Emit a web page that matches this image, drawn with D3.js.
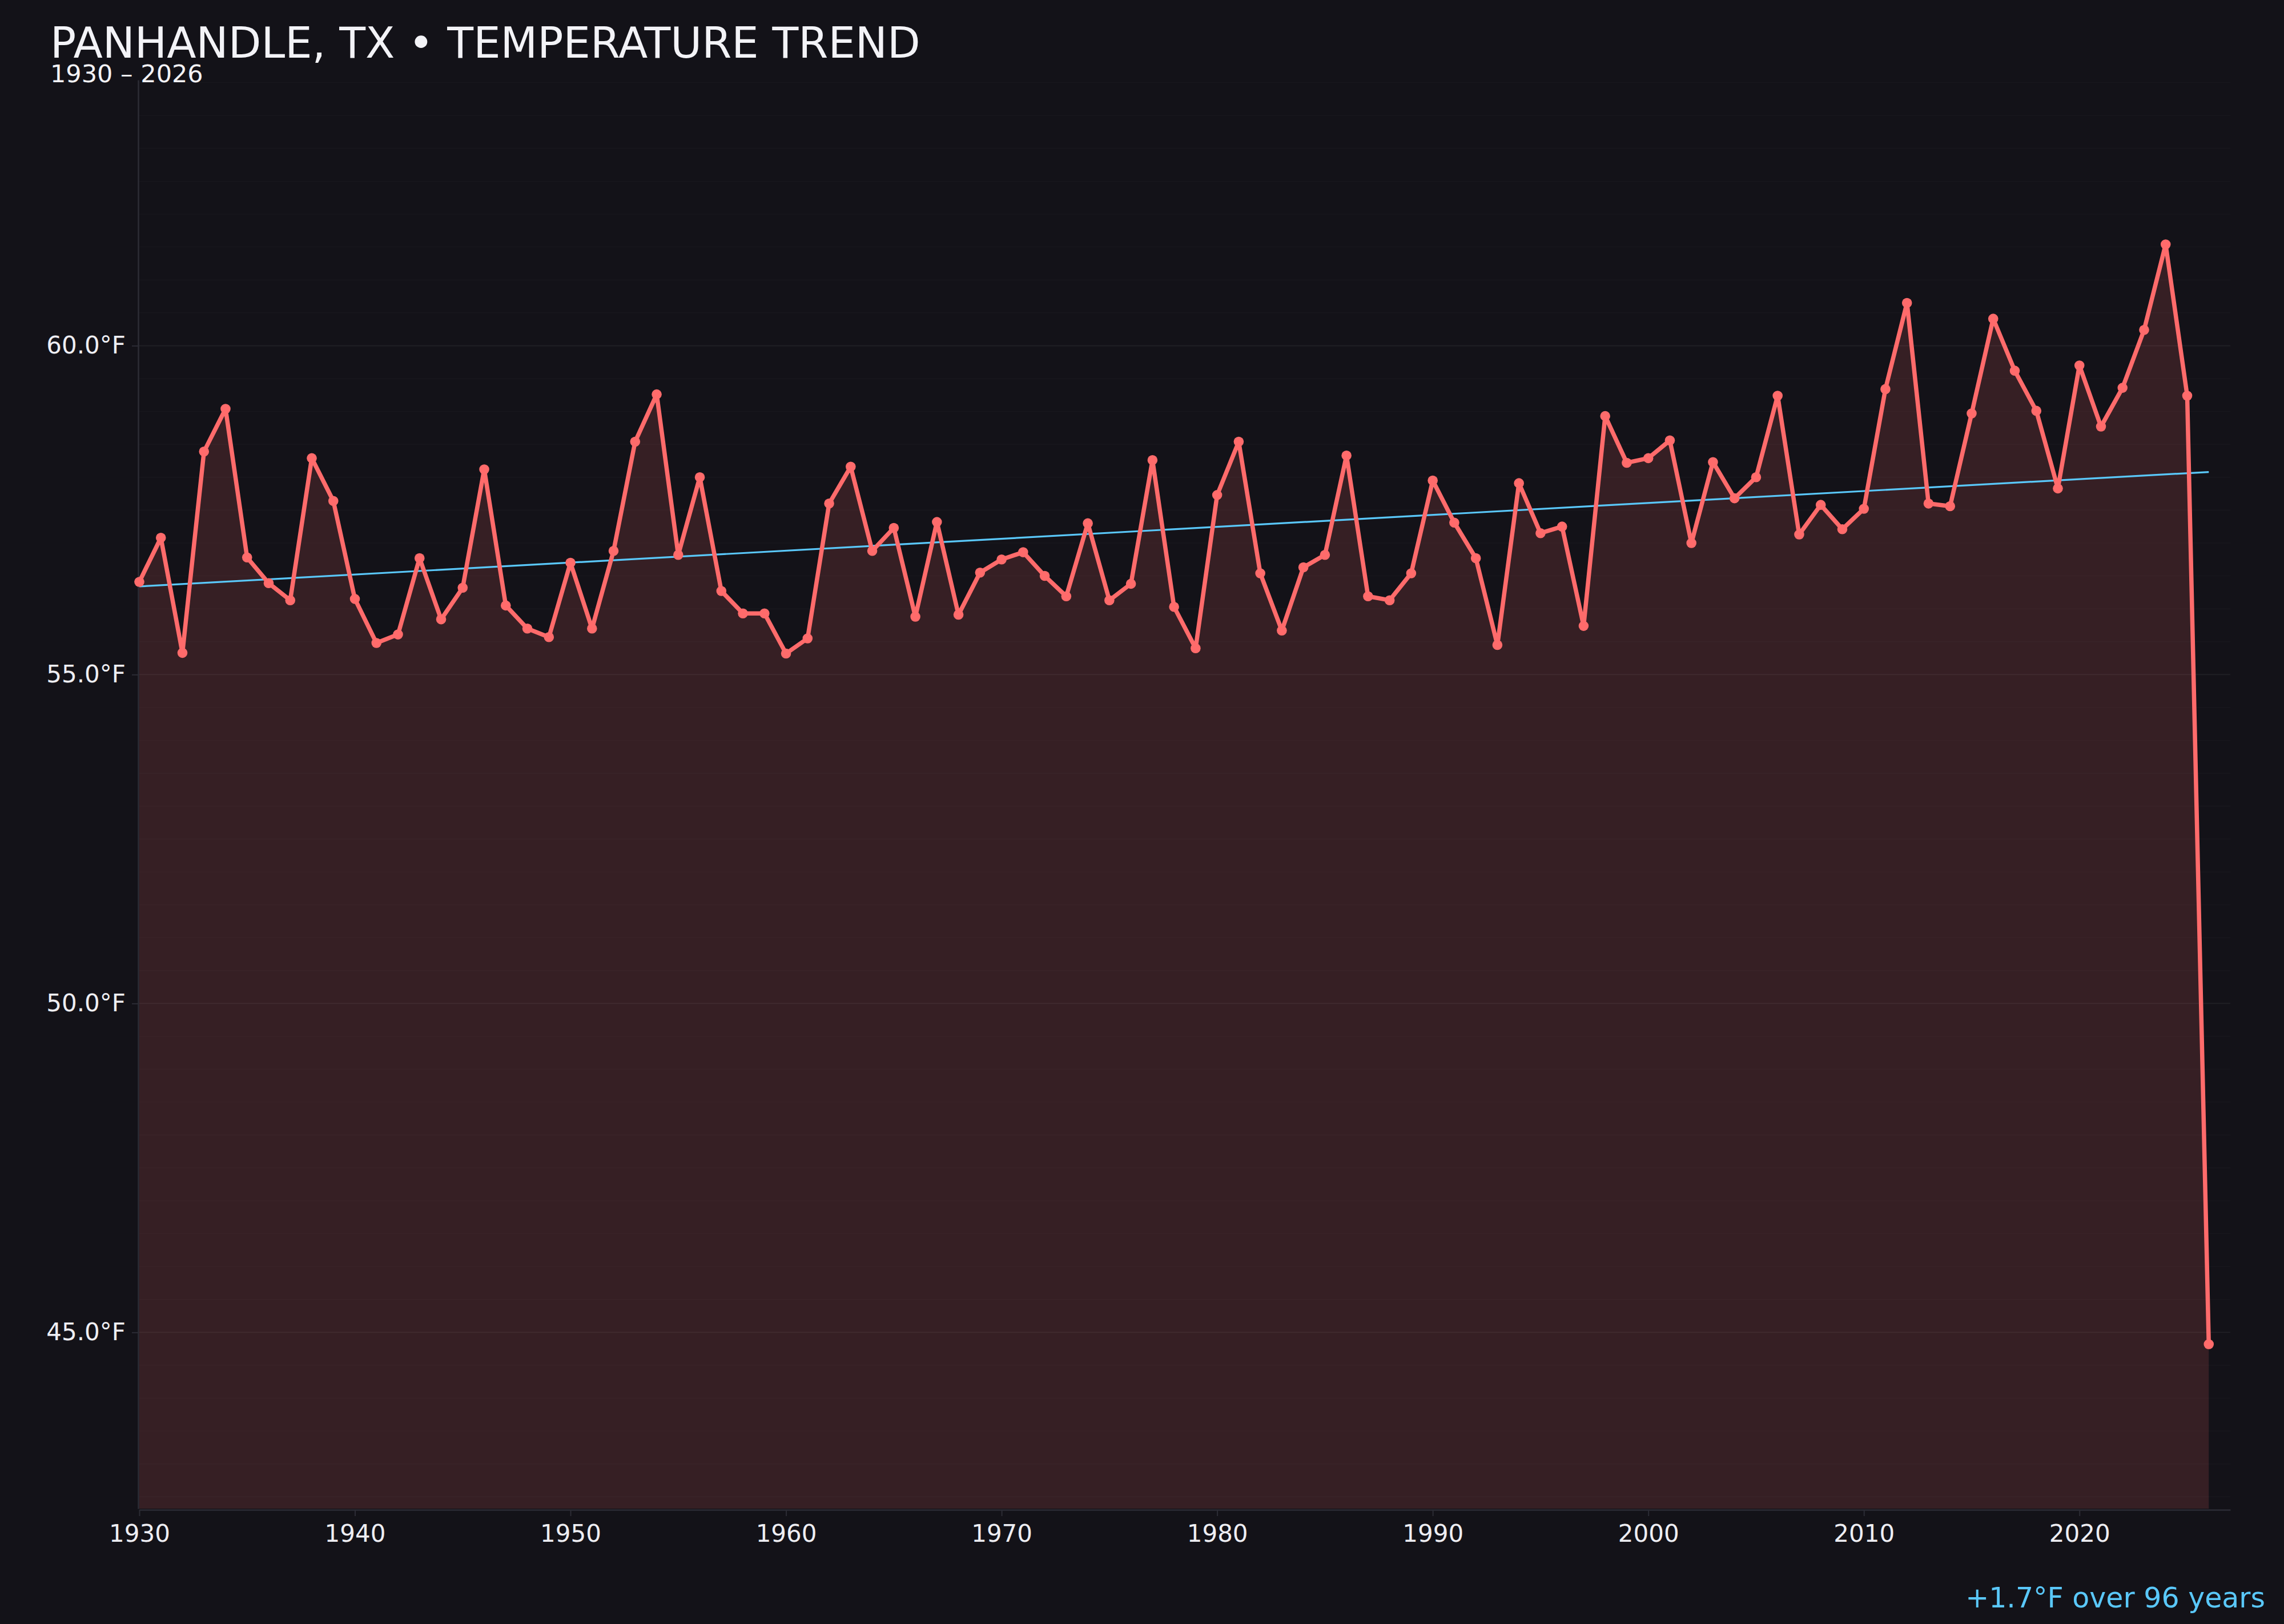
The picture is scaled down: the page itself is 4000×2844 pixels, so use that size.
<!DOCTYPE html>
<html>
<head>
<meta charset="utf-8">
<script src="https://cdn.jsdelivr.net/npm/d3@7/dist/d3.min.js"></script>
<style>
  html, body { margin: 0; padding: 0; background: #131218; }
  svg { display: block; }
  text { font-family: "DejaVu Sans", sans-serif; }
</style>
</head>
<body>
<script>
// ---- DATA ----
const years = [
  1930,1931,1932,1933,1934,1935,1936,1937,1938,1939,
  1940,1941,1942,1943,1944,1945,1946,1947,1948,1949,
  1950,1951,1952,1953,1954,1955,1956,1957,1958,1959,
  1960,1961,1962,1963,1964,1965,1966,1967,1968,1969,
  1970,1971,1972,1973,1974,1975,1976,1977,1978,1979,
  1980,1981,1982,1983,1984,1985,1986,1987,1988,1989,
  1990,1991,1992,1993,1994,1995,1996,1997,1998,1999,
  2000,2001,2002,2003,2004,2005,2006,2007,2008,2009,
  2010,2011,2012,2013,2014,2015,2016,2017,2018,2019,
  2020,2021,2022,2023,2024,2025,2026
];
const temps = [
  56.41,57.08,55.33,58.39,59.04,56.78,56.39,56.13,58.29,57.64,
  56.15,55.48,55.61,56.77,55.84,56.32,58.12,56.05,55.70,55.57,
  56.70,55.70,56.88,58.54,59.26,56.82,58.00,56.27,55.93,55.93,
  55.32,55.55,57.60,58.16,56.88,57.23,55.88,57.32,55.91,56.55,
  56.75,56.86,56.50,56.19,57.30,56.13,56.38,58.26,56.03,55.40,
  57.73,58.54,56.54,55.67,56.63,56.82,58.33,56.19,56.13,56.54,
  57.95,57.31,56.77,55.45,57.91,57.15,57.25,55.74,58.93,58.22,
  58.29,58.56,57.00,58.23,57.68,58.00,59.24,57.13,57.58,57.21,
  57.52,59.34,60.65,57.60,57.56,58.97,60.41,59.62,59.01,57.83,
  59.70,58.77,59.36,60.24,61.54,59.24,44.82
];
const trendYears = [1930, 2026];
const trendValues = [56.34, 58.08];
const yTickValues = [45, 50, 55, 60];
const xTickValues = [1930, 1940, 1950, 1960, 1970, 1980, 1990, 2000, 2010, 2020];
const titleText = "PANHANDLE, TX \u2022 TEMPERATURE TREND";
const subtitleText = "1930 \u2013 2026";
const trendLabel = "+1.7\u00B0F over 96 years";

// ---- LAYOUT ----
const W = 4000, H = 2844;
const plot = { left: 244, right: 3906, top: 140, bottom: 2642 };
const colors = {
  bg: "#131218", line: "#ff6b6b", trend: "#5ac8fa",
  text: "#eeeef3", axis: "#2c2c35"
};

const data = years.map((y, i) => ({ year: y, value: temps[i] }));
const trend = trendYears.map((y, i) => ({ year: y, value: trendValues[i] }));

const x = d3.scaleLinear().domain([1930, 2027]).range([plot.left, plot.right]);
const yMin = d3.min(temps) - 2.5, yMax = d3.max(temps) + 2.5;
const y = d3.scaleLinear().domain([yMin, yMax]).range([plot.bottom, plot.top]);

const svg = d3.select("body").append("svg")
  .attr("width", W).attr("height", H)
  .style("background", colors.bg);

svg.append("rect").attr("width", W).attr("height", H).attr("fill", colors.bg);

// gridlines
const minor = d3.range(Math.ceil(yMin * 2) / 2, yMax + 0.001, 0.5)
  .filter(v => !yTickValues.includes(v));
svg.append("g").selectAll("line").data(minor).join("line")
  .attr("x1", plot.left - 2).attr("x2", plot.right)
  .attr("y1", d => y(d)).attr("y2", d => y(d))
  .attr("stroke", "#ffffff").attr("stroke-opacity", 0.025).attr("stroke-width", 1.5);
svg.append("g").selectAll("line").data(yTickValues).join("line")
  .attr("x1", plot.left - 2).attr("x2", plot.right)
  .attr("y1", d => y(d)).attr("y2", d => y(d))
  .attr("stroke", "#ffffff").attr("stroke-opacity", 0.055).attr("stroke-width", 2);

// area fill
const area = d3.area().x(d => x(d.year)).y0(y(yMin)).y1(d => y(d.value));
svg.append("path").datum(data).attr("d", area)
  .attr("fill", colors.line).attr("fill-opacity", 0.15);

// axes
const yAxis = d3.axisLeft(y).tickValues(yTickValues)
  .tickFormat(d => d3.format(".1f")(d) + "\u00B0F")
  .tickSize(11).tickSizeOuter(0).tickPadding(11);
const gy = svg.append("g").attr("transform", `translate(${plot.left - 2},0)`).call(yAxis);
gy.select(".domain").attr("stroke", colors.axis).attr("stroke-width", 2.5);
gy.selectAll(".tick line").attr("stroke", colors.axis).attr("stroke-width", 2);
gy.selectAll(".tick text").attr("fill", colors.text)
  .style("font-size", "42px").style("font-family", "DejaVu Sans, sans-serif");

const xAxis = d3.axisBottom(x).tickValues(xTickValues).tickFormat(d => String(d))
  .tickSize(11).tickSizeOuter(0).tickPadding(15);
const gx = svg.append("g").attr("transform", `translate(0,${plot.bottom + 2})`).call(xAxis);
gx.select(".domain").attr("stroke", colors.axis).attr("stroke-width", 2.5);
gx.selectAll(".tick line").attr("stroke", colors.axis).attr("stroke-width", 2);
gx.selectAll(".tick text").attr("fill", colors.text)
  .style("font-size", "42px").style("font-family", "DejaVu Sans, sans-serif");

// trend line
const lineGen = d3.line().x(d => x(d.year)).y(d => y(d.value));
svg.append("path").datum(trend).attr("d", lineGen)
  .attr("fill", "none").attr("stroke", colors.trend).attr("stroke-width", 3.2);

// data line
svg.append("path").datum(data).attr("d", lineGen)
  .attr("fill", "none").attr("stroke", colors.line)
  .attr("stroke-width", 7.5).attr("stroke-linejoin", "round");

// dots
svg.append("g").selectAll("circle").data(data).join("circle")
  .attr("cx", d => x(d.year)).attr("cy", d => y(d.value)).attr("r", 8.8)
  .attr("fill", colors.line);

// titles
svg.append("text").attr("x", 88).attr("y", 101).text(titleText)
  .attr("fill", "#f3f3f7").style("font-size", "75px");
svg.append("text").attr("x", 88).attr("y", 144).text(subtitleText)
  .attr("fill", "#f3f3f7").style("font-size", "43px");

// trend label
svg.append("text").attr("x", 3967).attr("y", 2815).attr("text-anchor", "end")
  .text(trendLabel).attr("fill", colors.trend).style("font-size", "49px");
</script>
</body>
</html>
